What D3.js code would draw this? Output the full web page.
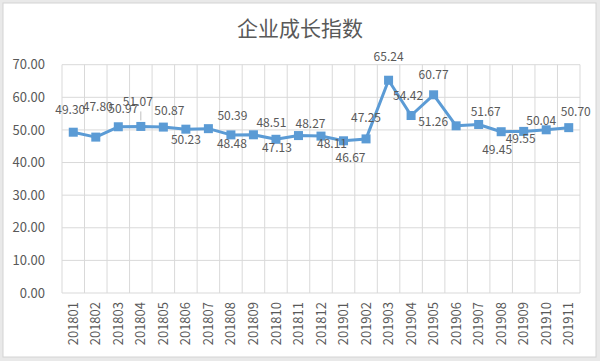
<!DOCTYPE html>
<html>
<head>
<meta charset="utf-8">
<script src="https://cdn.jsdelivr.net/npm/d3@7/dist/d3.min.js"></script>
<style>
  html, body { margin: 0; padding: 0; background: #fff; }
  svg { display: block; }
</style>
</head>
<body>
<script>
const title = "企业成长指数";
const categories = ["201801","201802","201803","201804","201805","201806","201807","201808","201809","201810","201811","201812","201901","201902","201903","201904","201905","201906","201907","201908","201909","201910","201911"];
const values = [49.30,47.80,50.97,51.07,50.87,50.23,50.39,48.48,48.51,47.13,48.27,48.11,46.67,47.25,65.24,54.42,60.77,51.26,51.67,49.45,49.55,50.04,50.70];
const yTicks = [0,10,20,30,40,50,60,70];
// label placement offsets (dx, dy) of label centre relative to the marker
const labelOffsets = [[-3,-22],[2,-30],[5,-18],[-3,-25],[6,-16],[0,11],[24,-13],[1,9],[18,-12],[1,9],[12,-12],[11,8],[7,17],[0,-21],[0,-23],[-3,-20],[0,-20],[-23,-4],[7,-13],[-4,18],[-3,7],[-5,-9],[7,-16]];

const W = 600, H = 361;
const svg = d3.select("body").append("svg").attr("width", W).attr("height", H);

svg.append("rect").attr("x",0).attr("y",0).attr("width",W).attr("height",H).attr("fill","#e9e9e9");
svg.append("rect").attr("x",3).attr("y",3).attr("width",593).attr("height",354)
  .attr("fill","#fff").attr("stroke","#d4d4d4");

const x = d3.scaleBand().domain(categories).range([62, 580]);
const y = d3.scaleLinear().domain([0,70]).range([293, 64.7]);

const font = "'Noto Sans CJK SC', 'Noto Sans', sans-serif";
const grey = "#595959";

// horizontal gridlines
svg.append("g").selectAll("line").data(yTicks).join("line")
  .attr("x1", 62).attr("x2", 580)
  .attr("y1", d => y(d)).attr("y2", d => y(d))
  .attr("stroke", "#d9d9d9").attr("stroke-width", 1);
// vertical gridlines at band edges
const edges = categories.map(c => x(c)).concat([x.range()[1]]);
svg.append("g").selectAll("line").data(edges).join("line")
  .attr("x1", d => d).attr("x2", d => d)
  .attr("y1", y(70)).attr("y2", y(0))
  .attr("stroke", "#d9d9d9").attr("stroke-width", 1);

// y axis labels
const yAxis = d3.axisLeft(y).tickValues(yTicks).tickFormat(d3.format(".2f")).tickSize(0).tickPadding(17);
const gy = svg.append("g").attr("transform", "translate(62,0)").call(yAxis);
gy.select(".domain").remove();
gy.selectAll("text").attr("fill", grey).style("font-family", font).style("font-size", "13px");

// x axis labels
const xAxis = d3.axisBottom(x).tickSize(0).tickPadding(0);
const gx = svg.append("g").attr("transform", "translate(0,293)").call(xAxis);
gx.select(".domain").remove();
gx.selectAll("text")
  .attr("fill", grey).style("font-family", font).style("font-size", "13px")
  .attr("transform", "rotate(-90)")
  .attr("text-anchor", "end")
  .attr("x", -9).attr("y", 0).attr("dy", "0.35em");

// line
const cx = (d,i) => x(categories[i]) + x.bandwidth()/2;
const line = d3.line().x((d,i) => cx(d,i)).y(d => y(d));
svg.append("path").datum(values).attr("d", line)
  .attr("fill","none").attr("stroke","#5B9BD5").attr("stroke-width",3).attr("stroke-linejoin","round");

// markers
svg.append("g").selectAll("rect").data(values).join("rect")
  .attr("x", (d,i) => cx(d,i) - 4.5).attr("y", d => y(d) - 4.5)
  .attr("width", 9).attr("height", 9).attr("fill", "#5B9BD5");

// leader line for 201804
svg.append("line")
  .attr("x1", cx(values[3],3)).attr("x2", cx(values[3],3))
  .attr("y1", y(values[3]) - 15).attr("y2", y(values[3]) - 6)
  .attr("stroke", "#bfbfbf").attr("stroke-width", 1);

// data labels
svg.append("g").selectAll("text").data(values).join("text")
  .attr("x", (d,i) => cx(d,i) + labelOffsets[i][0])
  .attr("y", (d,i) => y(d) + labelOffsets[i][1])
  .attr("dy", "0.35em")
  .attr("text-anchor", "middle")
  .attr("fill", grey).style("font-family", font).style("font-size", "12px")
  .text(d => d.toFixed(2));

// title
svg.append("text").attr("x", 300).attr("y", 36).attr("text-anchor","middle")
  .attr("fill", grey).style("font-family", font).style("font-size", "21px")
  .text(title);
</script>
</body>
</html>
